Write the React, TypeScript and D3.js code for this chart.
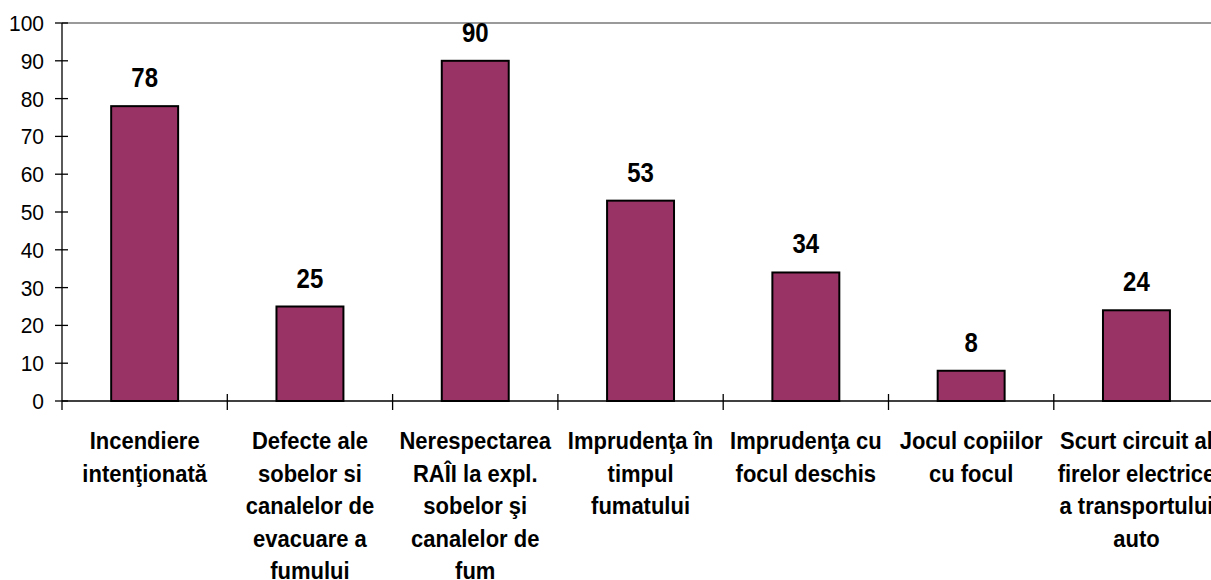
import { scaleBand, scaleLinear, range } from "d3";

const categories = [
  "Incendiere intenţionată",
  "Defecte ale sobelor si canalelor de evacuare a fumului",
  "Nerespectarea RAÎI la expl. sobelor şi canalelor de fum",
  "Imprudenţa în timpul fumatului",
  "Imprudenţa cu focul deschis",
  "Jocul copiilor cu focul",
  "Scurt circuit al firelor electrice a transportului auto",
];

const categoryLines = [
  ["Incendiere", "intenţionată"],
  ["Defecte ale", "sobelor si", "canalelor de", "evacuare a", "fumului"],
  ["Nerespectarea", "RAÎI la expl.", "sobelor şi", "canalelor de", "fum"],
  ["Imprudenţa în", "timpul", "fumatului"],
  ["Imprudenţa cu", "focul deschis"],
  ["Jocul copiilor", "cu focul"],
  ["Scurt circuit al", "firelor electrice", "a transportului", "auto"],
];

const values = [78, 25, 90, 53, 34, 8, 24];

const yTicks = range(0, 101, 10);

export default function App() {
  const width = 1211;
  const height = 580;
  const left = 62;
  const top = 23;
  const bottom = 401;
  const band = 165.3;
  const font = "'Liberation Sans', Arial, sans-serif";
  const stretch = 1.12;

  const x = scaleBand<string>()
    .domain(categories)
    .range([left, left + band * categories.length])
    .paddingInner(0.595)
    .paddingOuter(0.2975);

  const y = scaleLinear().domain([0, 100]).range([bottom, top]);

  return (
    <svg
      width={width}
      height={height}
      style={{ position: "absolute", left: 0, top: 0, background: "#fff" }}
    >
      {/* plot area top border */}
      <line x1={left} x2={width} y1={top} y2={top} stroke="#9a9a9a" strokeWidth="2" />

      {values.map((v, i) => (
        <rect
          key={i}
          x={x(categories[i])}
          y={y(v)}
          width={x.bandwidth()}
          height={bottom - y(v)}
          fill="#993366"
          stroke="#000"
          strokeWidth="2"
        />
      ))}

      {/* y axis */}
      <line x1={left} x2={left} y1={top} y2={bottom + 9} stroke="#000" strokeWidth="1.3" />
      {yTicks.map((t) => (
        <g key={t}>
          <line x1={left - 7} x2={left + 6} y1={y(t)} y2={y(t)} stroke="#000" strokeWidth="1.3" />
          <text
            transform={`translate(44, ${y(t) + 8}) scale(1, 1.07)`}
            textAnchor="end"
            fontFamily={font}
            fontSize="21"
            fill="#000"
          >
            {t}
          </text>
        </g>
      ))}

      {/* x axis */}
      <line x1={left} x2={width} y1={bottom} y2={bottom} stroke="#000" strokeWidth="1.3" />
      {categories.map((c, i) => (
        <line
          key={c}
          x1={left + band * (i + 1)}
          x2={left + band * (i + 1)}
          y1={bottom - 7}
          y2={bottom + 9}
          stroke="#000"
          strokeWidth="1.3"
        />
      ))}

      {values.map((v, i) => (
        <text
          key={i}
          transform={`translate(${(x(categories[i]) ?? 0) + x.bandwidth() / 2}, ${y(v) - 19}) scale(1, ${stretch})`}
          textAnchor="middle"
          fontFamily={font}
          fontSize="24"
          fontWeight="bold"
          fill="#000"
        >
          {v}
        </text>
      ))}

      {categoryLines.map((lines, i) => (
        <g key={i}>
          {lines.map((ln, j) => (
            <text
              key={j}
              transform={`translate(${(x(categories[i]) ?? 0) + x.bandwidth() / 2}, ${449 + j * 32.5}) scale(1, ${stretch})`}
              textAnchor="middle"
              fontFamily={font}
              fontSize="22"
              fontWeight="bold"
              fill="#000"
            >
              {ln}
            </text>
          ))}
        </g>
      ))}
    </svg>
  );
}
